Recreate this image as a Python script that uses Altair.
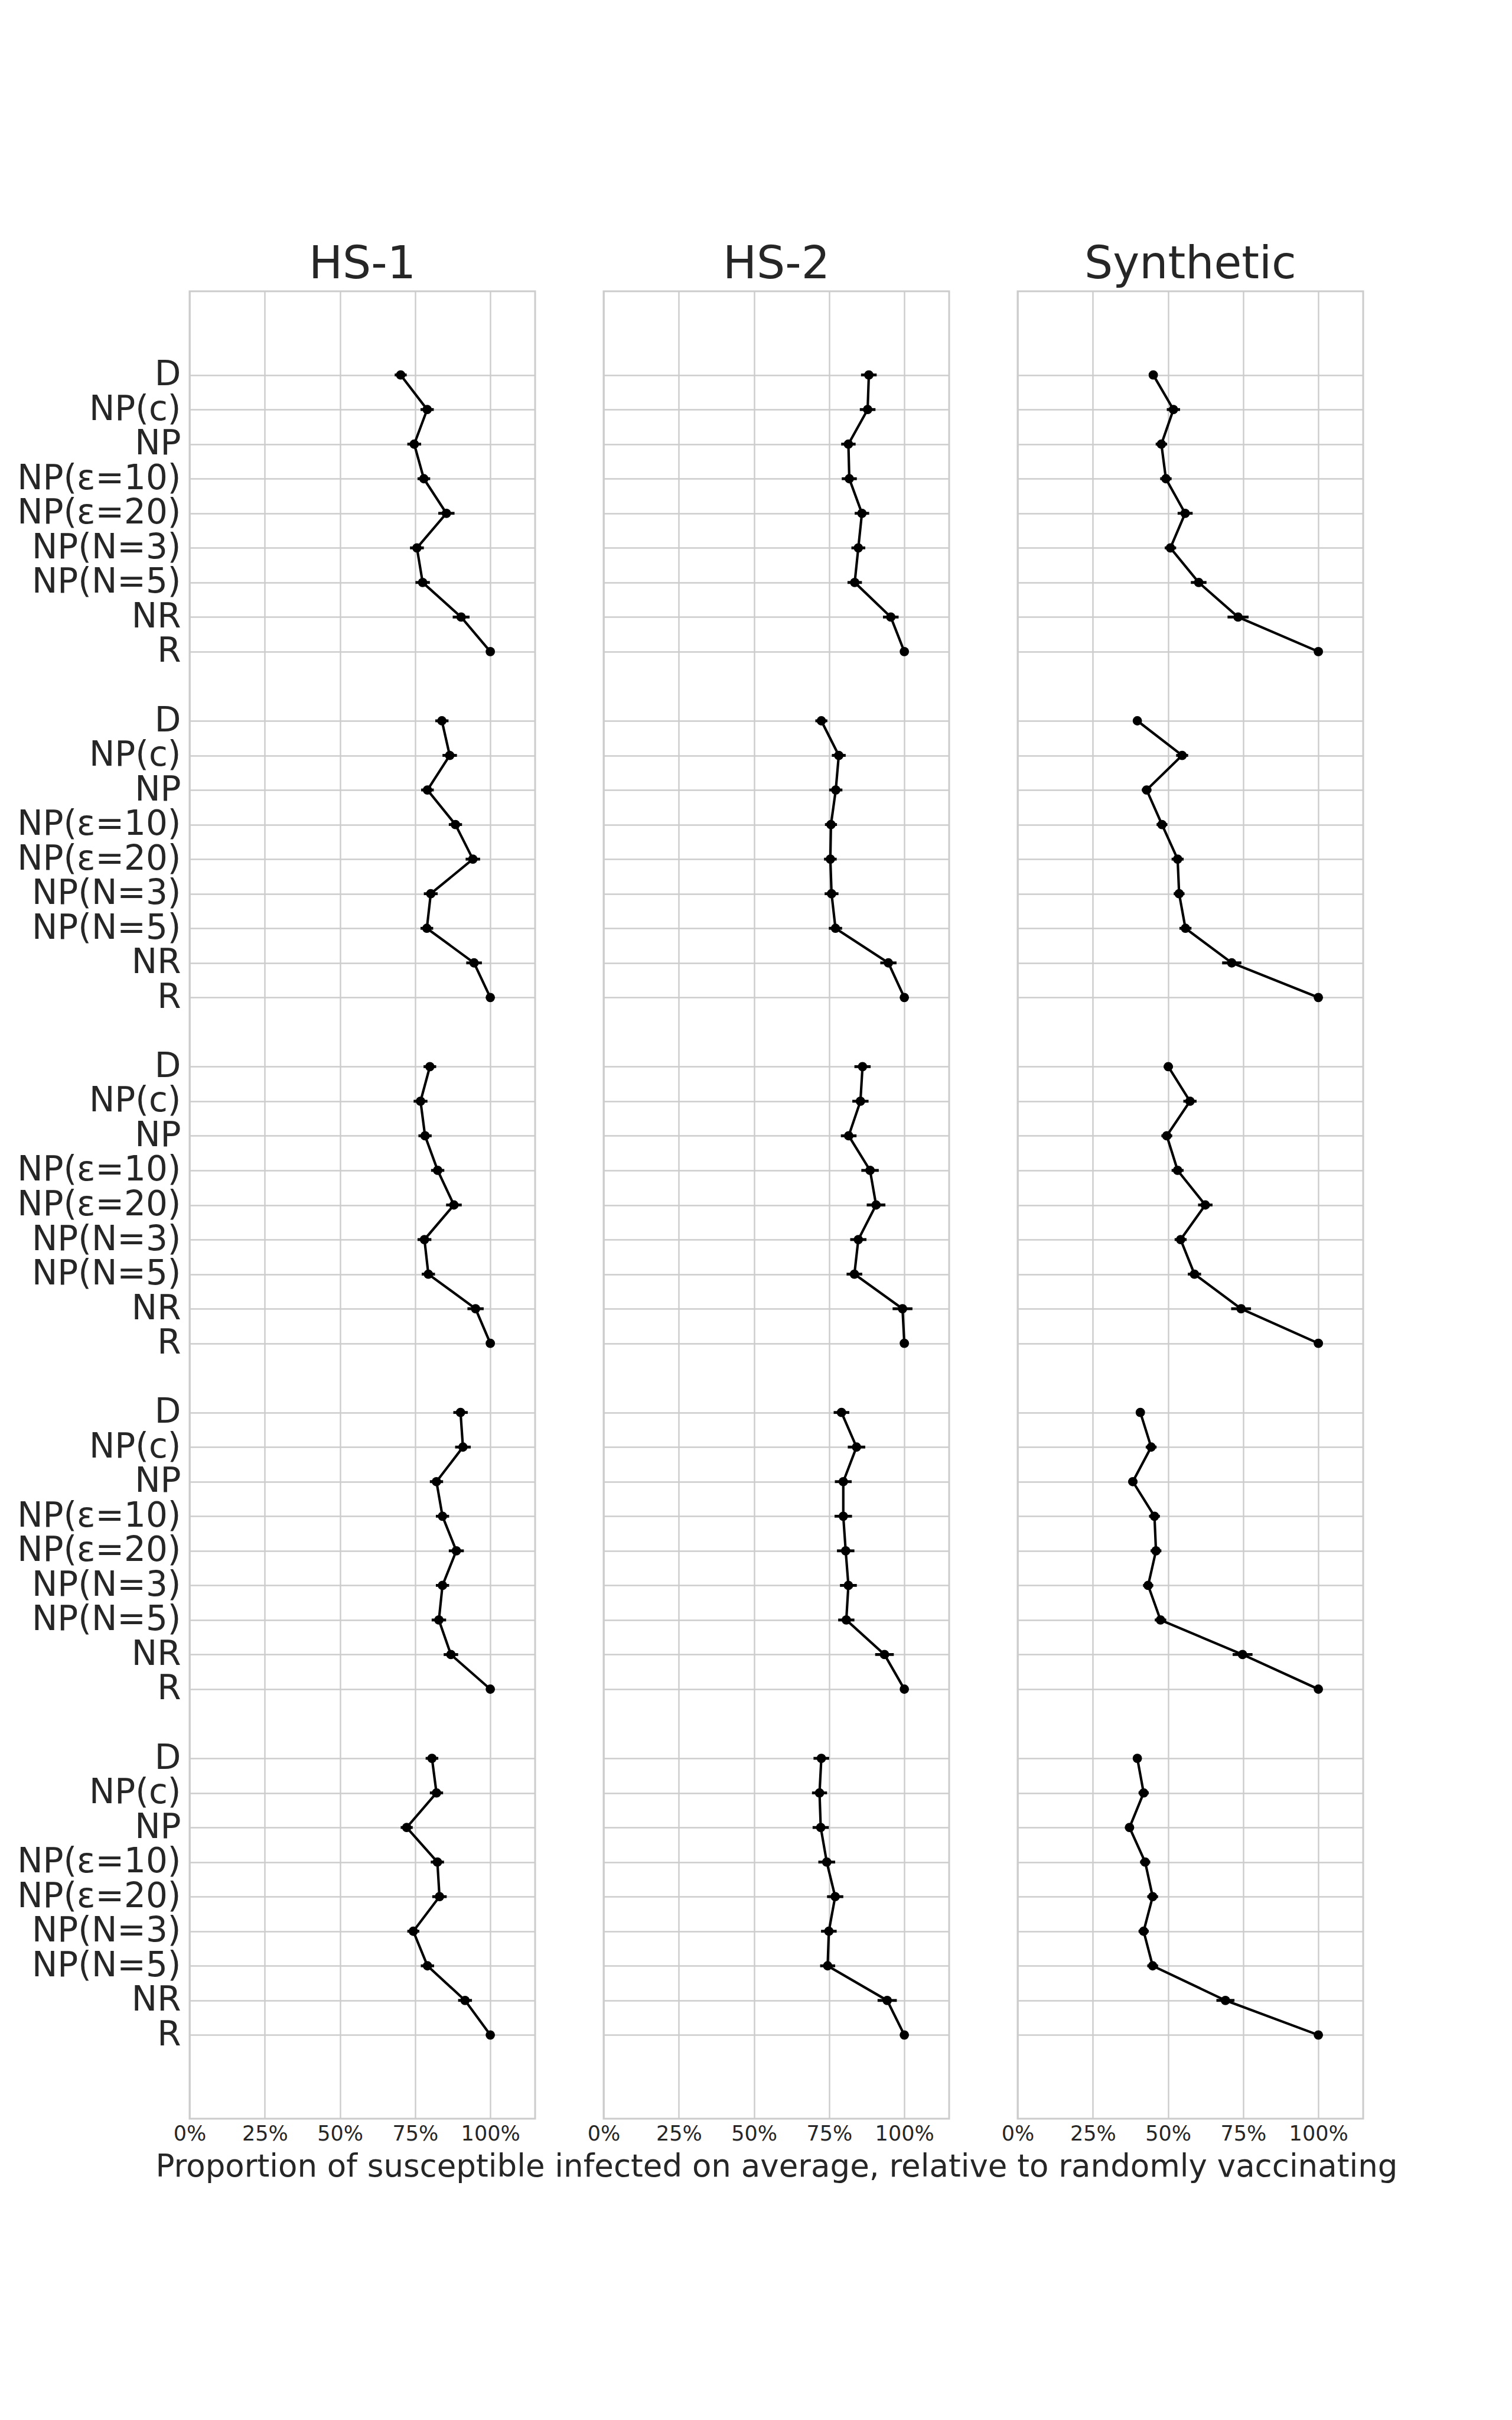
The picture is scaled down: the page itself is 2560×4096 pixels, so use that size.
import altair as alt
import pandas as pd

METHODS = ["D", "NP(c)", "NP", "NP(ε=10)", "NP(ε=20)", "NP(N=3)", "NP(N=5)", "NR", "R"]
PANELS = ["HS-1", "HS-2", "Synthetic"]
X_TICKS = [0, 0.25, 0.5, 0.75, 1.0]
X_TITLE = "Proportion of susceptible infected on average, relative to randomly vaccinating"

# mean values (% relative to random vaccination), one list per block of rows
HS1 = [
    [70.2, 79.0, 74.7, 77.9, 85.4, 75.6, 77.5, 90.3, 100],
    [83.9, 86.5, 79.1, 88.4, 94.2, 80.2, 78.9, 94.6, 100],
    [79.9, 76.8, 78.3, 82.5, 87.9, 78.1, 79.4, 95.1, 100],
    [90.1, 90.9, 82.1, 84.1, 88.7, 84.1, 82.9, 86.9, 100],
    [80.6, 82.1, 72.2, 82.4, 83.1, 74.4, 79.1, 91.6, 100],
]
HS2 = [
    [88.2, 87.8, 81.4, 81.7, 85.9, 84.7, 83.5, 95.5, 100],
    [72.4, 78.2, 77.2, 75.6, 75.4, 75.8, 77.1, 94.7, 100],
    [86.1, 85.4, 81.5, 88.6, 90.6, 84.7, 83.4, 99.4, 100],
    [79.1, 84.1, 79.7, 79.7, 80.5, 81.4, 80.7, 93.4, 100],
    [72.4, 71.8, 72.2, 74.2, 77.0, 74.9, 74.5, 94.3, 100],
]
SYN = [
    [45.1, 51.8, 47.8, 49.3, 55.7, 50.8, 60.2, 73.3, 100],
    [39.8, 54.7, 42.9, 48.0, 53.2, 53.7, 55.8, 71.2, 100],
    [50.1, 57.3, 49.6, 53.2, 62.4, 54.2, 58.8, 74.3, 100],
    [40.8, 44.4, 38.3, 45.5, 46.0, 43.4, 47.5, 74.8, 100],
    [39.8, 41.9, 37.2, 42.4, 44.9, 41.9, 44.9, 69.1, 100],
]

# error-bar half widths (percentage points)
HS1_ERR = [
    [2.0, 2.2, 2.3, 2.1, 2.7, 2.3, 2.4, 2.8, 0],
    [2.2, 2.4, 2.1, 2.2, 2.4, 2.3, 2.1, 2.6, 0],
    [2.1, 2.3, 2.2, 2.2, 2.6, 2.3, 2.2, 2.7, 0],
    [2.4, 2.6, 2.2, 2.2, 2.5, 2.2, 2.4, 2.4, 0],
    [2.1, 2.2, 2.0, 2.2, 2.4, 2.0, 2.2, 2.3, 0],
]
HS2_ERR = [
    [2.6, 2.6, 2.4, 2.5, 2.4, 2.3, 2.4, 2.6, 0],
    [2.0, 2.3, 2.2, 2.0, 2.1, 2.3, 2.2, 2.7, 0],
    [2.7, 2.7, 2.6, 2.9, 3.1, 2.7, 2.6, 3.3, 0],
    [2.6, 2.9, 2.8, 2.9, 2.9, 2.8, 2.7, 3.1, 0],
    [2.6, 2.5, 2.7, 2.8, 2.7, 2.6, 2.5, 3.2, 0],
]
SYN_ERR = [
    [1.2, 2.2, 1.9, 1.9, 2.5, 1.9, 2.6, 3.5, 0],
    [1.2, 2.0, 1.6, 1.8, 2.0, 1.8, 2.0, 3.2, 0],
    [1.5, 2.2, 1.8, 2.0, 2.4, 2.0, 2.2, 3.3, 0],
    [1.3, 1.8, 1.5, 1.8, 1.8, 1.7, 1.9, 3.3, 0],
    [1.3, 1.7, 1.5, 1.7, 1.8, 1.7, 1.8, 3.0, 0],
]

rows = []
for panel, vals, errs in zip(PANELS, [HS1, HS2, SYN], [HS1_ERR, HS2_ERR, SYN_ERR]):
    for g, (gv, ge) in enumerate(zip(vals, errs)):
        for i, (v, e) in enumerate(zip(gv, ge)):
            rows.append(dict(panel=panel, group=g, pos=g * 10 + i, method=METHODS[i],
                             value=v / 100, lo=(v - e) / 100, hi=(v + e) / 100))
df = pd.DataFrame(rows)

Y_TICKS = [g * 10 + i for g in range(len(HS1)) for i in range(len(METHODS))]
label_expr = "[" + ",".join("'" + m + "'" for m in METHODS) + "][datum.value % 10]"

FONT = "DejaVu Sans"
TXT = "#262626"
W, H = 585, 3093
XDOM = [0, 1.149]
YDOM = [-2.42, 50.42]


def panel(name, first, xtitle):
    sub = df[df.panel == name]
    xaxis = alt.Axis(values=X_TICKS, format=".0%", grid=True, ticks=False, domain=False,
                     labelFlush=False, labelOverlap=False, labelFontSize=35, labelPadding=8,
                     labelColor=TXT, labelFont=FONT,
                     title=xtitle, titleFontSize=53, titleFont=FONT, titleColor=TXT,
                     titleFontWeight="normal", titlePadding=12, titleLimit=3000)
    if first:
        yaxis = alt.Axis(values=Y_TICKS, labelExpr=label_expr, grid=True, ticks=False, domain=False,
                         labelOverlap=False, labelFontSize=58, labelPadding=15, labelLimit=1000,
                         labelColor=TXT, labelFont=FONT, labelBound=False,
                         minExtent=312, maxExtent=312, title=None)
    else:
        yaxis = alt.Axis(values=Y_TICKS, grid=True, ticks=False, domain=False, labels=False,
                         minExtent=0, maxExtent=0, title=None)
    xs = alt.Scale(domain=XDOM, nice=False, zero=False)
    ys = alt.Scale(domain=YDOM, nice=False, zero=False, reverse=True)
    base = alt.Chart(sub)
    line = base.mark_line(color="black", strokeWidth=4.2).encode(
        x=alt.X("value:Q", scale=xs, axis=xaxis),
        y=alt.Y("pos:Q", scale=ys, axis=yaxis),
        detail="group:N",
        order="pos:Q",
    )
    err = base.mark_rule(color="black", strokeWidth=4.8).encode(
        x=alt.X("lo:Q", scale=xs),
        x2="hi:Q",
        y=alt.Y("pos:Q", scale=ys),
    )
    pts = base.mark_circle(color="black", size=250, opacity=1).encode(
        x=alt.X("value:Q", scale=xs),
        y=alt.Y("pos:Q", scale=ys),
    )
    return alt.layer(line, err, pts).properties(
        width=W, height=H,
        title=alt.TitleParams(name, fontSize=76, font=FONT, color=TXT, fontWeight="normal",
                              anchor="middle", frame="group", offset=6),
    )


chart = alt.hconcat(
    panel("HS-1", True, None),
    panel("HS-2", False, X_TITLE),
    panel("Synthetic", False, None),
    spacing=116,
    bounds="flush",
).properties(
    padding={"left": 7, "top": 408, "right": 20, "bottom": 300},
    background="white",
).configure_view(
    stroke="#cccccc", strokeWidth=3
).configure_axis(
    gridColor="#cccccc", gridWidth=2.4, gridOpacity=1
)

chart.save("out.html", embed_options={"renderer": "svg", "actions": False})
